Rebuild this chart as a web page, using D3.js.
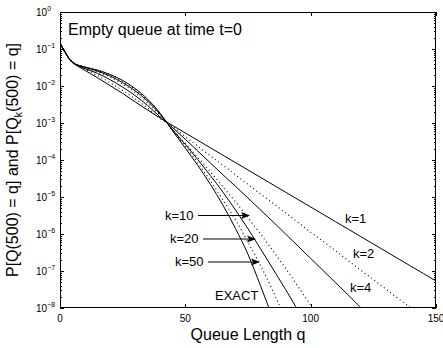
<!DOCTYPE html>
<html><head><meta charset="utf-8">
<script src="https://cdn.jsdelivr.net/npm/d3@7"></script>
<style>
html,body{margin:0;padding:0;background:#fff;}
svg{display:block;font-family:"Liberation Sans",Arial,Helvetica,sans-serif;}
</style></head>
<body>
<svg id="c" width="443" height="348"></svg>
<script>
// queue length grid
const qGrid = [0,2,4,6,8,10,15,20,25,30,35,40,45,50,55,60,65,70,75,80,85,90,95,100,105,110,115,120,125,130,135,140,145,150];
// log10 of probability at each q
const exactLog = [-0.84,-1.08,-1.29,-1.40,-1.45,-1.49,-1.57,-1.69,-1.85,-2.07,-2.36,-2.74,-3.22,-3.68,-4.15,-4.66,-5.22,-5.85,-6.55,-7.40,-8.30];
const k50Log = [-0.84,-1.08,-1.29,-1.40,-1.45,-1.49,-1.58,-1.70,-1.87,-2.09,-2.38,-2.75,-3.20,-3.63,-4.08,-4.56,-5.08,-5.62,-6.22,-6.85,-7.55,-8.30];
const k20Log = [-0.84,-1.08,-1.29,-1.40,-1.46,-1.50,-1.60,-1.73,-1.91,-2.13,-2.41,-2.77,-3.19,-3.58,-3.99,-4.42,-4.87,-5.35,-5.86,-6.40,-6.95,-7.50,-8.07];
const k10Log = [-0.84,-1.08,-1.29,-1.41,-1.46,-1.51,-1.62,-1.76,-1.95,-2.18,-2.46,-2.80,-3.19,-3.55,-3.93,-4.32,-4.72,-5.13,-5.56,-6.00,-6.46,-6.93,-7.42,-7.92,-8.42];
const k4Log = [-0.84,-1.08,-1.29,-1.41,-1.47,-1.53,-1.66,-1.83,-2.03,-2.26,-2.53,-2.84,-3.13,-3.44,-3.76,-4.08,-4.40,-4.71,-5.03,-5.35,-5.67,-6.00,-6.33,-6.66,-6.99,-7.32,-7.65,-7.99,-8.33];
const k2Log = [-0.84,-1.08,-1.30,-1.42,-1.49,-1.55,-1.72,-1.91,-2.12,-2.35,-2.60,-2.88,-3.10,-3.37,-3.63,-3.89,-4.14,-4.40,-4.66,-4.92,-5.17,-5.43,-5.69,-5.95,-6.20,-6.46,-6.72,-6.98,-7.23,-7.49,-7.75,-8.00,-8.26];
const k1Log = [-0.84,-1.08,-1.30,-1.42,-1.50,-1.58,-1.78,-1.99,-2.20,-2.43,-2.65,-2.87,-3.07,-3.27,-3.47,-3.67,-3.87,-4.07,-4.27,-4.47,-4.67,-4.87,-5.07,-5.27,-5.47,-5.67,-5.87,-6.07,-6.27,-6.47,-6.67,-6.87,-7.07,-7.27];

const seriesNames = ["EXACT","k=50","k=20","k=10","k=4","k=2","k=1"];
const seriesLogs = [exactLog,k50Log,k20Log,k10Log,k4Log,k2Log,k1Log];
const seriesDotted = [false,true,false,true,false,true,false];

const xTicks = [0,50,100,150];
const yExps = [0,-1,-2,-3,-4,-5,-6,-7,-8];

const svg = d3.select("#c");
const L=60,R=436,T=12,B=308;
const x = d3.scaleLinear().domain([0,150]).range([L,R]);
const y = d3.scaleLog().domain([1e-8,1]).range([B,T]);

svg.append("defs").append("clipPath").attr("id","clip")
  .append("rect").attr("x",L).attr("y",T).attr("width",R-L).attr("height",B-T);

// curves
const line = d3.line().x(d=>x(d.q)).y(d=>y(d.p)).curve(d3.curveMonotoneX);
const gCurves = svg.append("g").attr("clip-path","url(#clip)");
seriesLogs.forEach((arr,i)=>{
  const data = arr.map((v,j)=>({q:qGrid[j], p:Math.pow(10,v)}));
  gCurves.append("path").datum(data).attr("d",line)
    .attr("fill","none").attr("stroke","#000")
    .attr("stroke-width", seriesDotted[i]?1.1:1)
    .attr("stroke-dasharray", seriesDotted[i]?"1,3":null);
});

// axes ticks (inward)
const minor = [];
for(let e=-8;e<0;e++) for(let m=2;m<=9;m++) minor.push(m*Math.pow(10,e));
const major = yExps.map(e=>Math.pow(10,e));
const tickG = svg.append("g").attr("stroke","#000").attr("stroke-width",1);
function yTickSet(vals,len){
  vals.forEach(v=>{
    const yy=Math.round(y(v))+0.5;
    tickG.append("line").attr("x1",L).attr("x2",L+len).attr("y1",yy).attr("y2",yy);
    tickG.append("line").attr("x1",R-len).attr("x2",R).attr("y1",yy).attr("y2",yy);
  });
}
yTickSet(major,4);
yTickSet(minor,2);
xTicks.forEach(v=>{
  const xx=Math.round(x(v))+0.5;
  tickG.append("line").attr("x1",xx).attr("x2",xx).attr("y1",B).attr("y2",B-4);
  tickG.append("line").attr("x1",xx).attr("x2",xx).attr("y1",T).attr("y2",T+4);
});

// box
svg.append("rect").attr("x",L+0.5).attr("y",T+0.5).attr("width",R-L-1).attr("height",B-T-1)
  .attr("fill","none").attr("stroke","#000").attr("stroke-width",1);

// y tick labels
yExps.forEach(e=>{
  const t = svg.append("text").attr("x",36).attr("y",y(Math.pow(10,e))+3.5)
    .attr("font-size",10).attr("fill","#000");
  t.append("tspan").text("10");
  t.append("tspan").attr("dy",-5).attr("font-size",7).text(e===0?"0":"\u2212"+(-e));
});
// x tick labels
xTicks.forEach(v=>{
  svg.append("text").attr("x",x(v)).attr("y",322).attr("text-anchor","middle")
    .attr("font-size",10).text(v);
});

// axis titles
svg.append("text").attr("x",248).attr("y",340).attr("text-anchor","middle")
  .attr("font-size",16).text("Queue Length q");
const yl = svg.append("text").attr("transform","translate(18,160) rotate(-90)")
  .attr("text-anchor","middle").attr("font-size",16);
yl.append("tspan").text("P[Q(500) = q] and P[Q");
yl.append("tspan").attr("font-size",11).attr("dy",4).text("k");
yl.append("tspan").attr("dy",-4).text("(500) = q]");

// title inside
svg.append("text").attr("x",68).attr("y",34.5).attr("font-size",16).text("Empty queue at time t=0");

// labels
const labels = [
  {t:"k=1",x:345,y:223},{t:"k=2",x:353,y:258},{t:"k=4",x:350,y:292},
  {t:"k=10",x:165,y:220},{t:"k=20",x:170,y:243},{t:"k=50",x:175,y:266},
  {t:"EXACT",x:215,y:300}
];
labels.forEach(l=>svg.append("text").attr("x",l.x).attr("y",l.y).attr("font-size",13).text(l.t));

// arrows
const arrows = [{x1:198,x2:250,y:215.5},{x1:203,x2:256,y:239},{x1:208,x2:260,y:262}];
arrows.forEach(a=>{
  svg.append("line").attr("x1",a.x1).attr("x2",a.x2-4).attr("y1",a.y).attr("y2",a.y)
    .attr("stroke","#000").attr("stroke-width",1);
  svg.append("path").attr("d",`M${a.x2},${a.y} L${a.x2-9},${a.y-3.5} L${a.x2-7},${a.y} L${a.x2-9},${a.y+3.5} Z`)
    .attr("fill","#000");
});
</script>
</body></html>
